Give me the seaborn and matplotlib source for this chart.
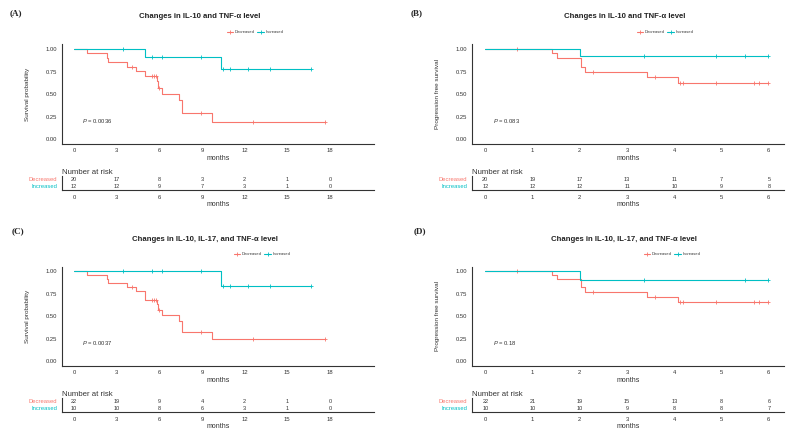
import numpy as np
import pandas as pd
import matplotlib
matplotlib.use('Agg')
import matplotlib.pyplot as plt
from matplotlib.lines import Line2D
import seaborn as sns

sns.set_style('white')
plt.rcParams['font.family'] = ['Liberation Sans', 'DejaVu Sans']
plt.rcParams['mathtext.fontset'] = 'custom'
plt.rcParams['mathtext.it'] = 'Liberation Sans:italic'
plt.rcParams['mathtext.rm'] = 'Liberation Sans'

# ---------------- data ----------------
groups = ['Decreased', 'Increased']
colors = ['#F8766D', '#00BFC4']

# (A) OS, IL-10 + TNF-a
A_dec_t = [0, 0.89, 2.3, 2.4, 3.75, 4.35, 5.0, 5.8, 5.9, 6.18, 7.37, 7.6, 9.67, 17.68]
A_dec_s = [1.0, 0.95, 0.90, 0.85, 0.80, 0.75, 0.70, 0.64, 0.57, 0.50, 0.43, 0.29, 0.19, 0.19]
A_dec_c = [4.1, 5.47, 5.61, 5.75, 5.95, 8.92, 12.56, 17.68]
A_inc_t = [0, 5.0, 10.35, 16.7]
A_inc_s = [1.0, 0.91, 0.78, 0.78]
A_inc_c = [3.43, 5.5, 6.22, 8.9, 10.45, 11.0, 12.27, 13.8, 16.7]
A_risk_dec = [20, 17, 8, 3, 2, 1, 0]
A_risk_inc = [12, 12, 9, 7, 3, 1, 0]

# (B) PFS, IL-10 + TNF-a
B_dec_t = [0, 1.42, 1.51, 2.02, 2.11, 3.42, 4.08, 5.99]
B_dec_s = [1.0, 0.95, 0.90, 0.80, 0.74, 0.685, 0.62, 0.62]
B_dec_c = [0.68, 2.29, 3.59, 4.12, 4.19, 4.88, 5.68, 5.79, 5.99]
B_inc_t = [0, 2.01, 5.99]
B_inc_s = [1.0, 0.92, 0.92]
B_inc_c = [3.36, 4.88, 5.49, 5.99]
B_risk_dec = [20, 19, 17, 13, 11, 7, 5]
B_risk_inc = [12, 12, 12, 11, 10, 9, 8]

# (C) OS, IL-10 + IL-17 + TNF-a
C_dec_t = [0, 0.89, 2.3, 2.4, 3.75, 4.35, 5.02, 5.85, 5.92, 6.2, 7.37, 7.6, 9.67, 17.68]
C_dec_s = [1.0, 0.955, 0.909, 0.864, 0.818, 0.773, 0.678, 0.63, 0.57, 0.513, 0.44, 0.32, 0.244, 0.244]
C_dec_c = [4.1, 5.47, 5.63, 5.77, 5.95, 8.94, 12.56, 17.68]
C_inc_t = [0, 10.35, 16.7]
C_inc_s = [1.0, 0.835, 0.835]
C_inc_c = [3.43, 5.5, 6.22, 8.9, 10.45, 11.0, 12.27, 13.8, 16.7]
C_risk_dec = [22, 19, 9, 4, 2, 1, 0]
C_risk_inc = [10, 10, 8, 6, 3, 1, 0]

# (D) PFS, IL-10 + IL-17 + TNF-a
D_dec_t = [0, 1.42, 1.51, 2.02, 2.11, 3.42, 4.08, 5.99]
D_dec_s = [1.0, 0.955, 0.91, 0.82, 0.77, 0.71, 0.66, 0.66]
D_dec_c = [0.68, 2.29, 3.59, 4.12, 4.19, 4.88, 5.68, 5.79, 5.99]
D_inc_t = [0, 2.01, 5.99]
D_inc_s = [1.0, 0.905, 0.905]
D_inc_c = [3.36, 5.49, 5.99]
D_risk_dec = [22, 21, 19, 15, 13, 8, 6]
D_risk_inc = [10, 10, 10, 9, 8, 8, 7]

panels = [
    dict(tag='(A)', title='Changes in IL-10 and TNF-\u03b1 level', ylab='Survival probability',
         p='0.0036', breaks=[0, 3, 6, 9, 12, 15, 18], xlim=(-0.85, 21.1),
         dec=(A_dec_t, A_dec_s, A_dec_c), inc=(A_inc_t, A_inc_s, A_inc_c),
         risk=(A_risk_dec, A_risk_inc), ox=0, oy=0, tx=10, tty=13, ttl=200, lg=255),
    dict(tag='(B)', title='Changes in IL-10 and TNF-\u03b1 level', ylab='Progression free survival',
         p='0.083', breaks=[0, 1, 2, 3, 4, 5, 6], xlim=(-0.28, 6.32),
         dec=(B_dec_t, B_dec_s, B_dec_c), inc=(B_inc_t, B_inc_s, B_inc_c),
         risk=(B_risk_dec, B_risk_inc), ox=410, oy=0, tx=411, tty=13, ttl=625, lg=665),
    dict(tag='(C)', title='Changes in IL-10, IL-17, and TNF-\u03b1 level', ylab='Survival probability',
         p='0.0037', breaks=[0, 3, 6, 9, 12, 15, 18], xlim=(-0.85, 21.1),
         dec=(C_dec_t, C_dec_s, C_dec_c), inc=(C_inc_t, C_inc_s, C_inc_c),
         risk=(C_risk_dec, C_risk_inc), ox=0, oy=222, tx=12, tty=231, ttl=205, lg=262),
    dict(tag='(D)', title='Changes in IL-10, IL-17, and TNF-\u03b1 level', ylab='Progression free survival',
         p='0.18', breaks=[0, 1, 2, 3, 4, 5, 6], xlim=(-0.28, 6.32),
         dec=(D_dec_t, D_dec_s, D_dec_c), inc=(D_inc_t, D_inc_s, D_inc_c),
         risk=(D_risk_dec, D_risk_inc), ox=410, oy=222, tx=414, tty=231, ttl=624, lg=672),
]

W, H = 798, 436
TXT = '#333333'
fig = plt.figure(figsize=(W / 100, H / 100), dpi=100)


def px_axes(l, t, r, b):
    return fig.add_axes([l / W, 1 - b / H, (r - l) / W, (b - t) / H])


def style_axis(ax):
    sns.despine(ax=ax)
    for s in ['left', 'bottom']:
        ax.spines[s].set_color(TXT)
        ax.spines[s].set_linewidth(0.8)
    ax.tick_params(axis='both', length=2, width=0.5, color=TXT, labelsize=4.2,
                   labelcolor=TXT, pad=1.5)


for pn in panels:
    ox, oy = pn['ox'], pn['oy']
    ax = px_axes(62 + ox, 44.5 + oy, 374 + ox, 143.5 + oy)

    for (t, s, c), col, g in zip([pn['dec'], pn['inc']], colors, groups):
        df = pd.DataFrame({'time': t, 'surv': s})
        sns.lineplot(data=df, x='time', y='surv', ax=ax, color=col, linewidth=0.8,
                     drawstyle='steps-post', estimator=None, sort=False)
        # survival value at each censor time (lookup on the step curve)
        idx = np.searchsorted(np.array(t), np.array(c), side='right') - 1
        dc = pd.DataFrame({'time': c, 'surv': np.array(s)[idx]})
        sns.scatterplot(data=dc, x='time', y='surv', ax=ax, marker='+', color=col,
                        s=10, linewidth=0.6)

    ax.set_xlim(*pn['xlim'])
    ax.set_ylim(-0.05, 1.05)
    ax.set_xticks(pn['breaks'])
    ax.set_yticks([0, 0.25, 0.5, 0.75, 1.0])
    ax.set_yticklabels(['0.00', '0.25', '0.50', '0.75', '1.00'])
    ax.set_xlabel('months', fontsize=5, color=TXT, labelpad=1)
    ax.set_ylabel(pn['ylab'], fontsize=4.6, color=TXT, labelpad=11)
    style_axis(ax)
    ax.text(pn['breaks'][0] + (pn['xlim'][1] - pn['xlim'][0]) * 0.024, 0.2,
            r'$P$ = ' + pn['p'], fontsize=4.2, color=TXT, va='center')

    # title, tag, legend
    fig.text(pn['ttl'] / W, 1 - (17 + oy) / H, pn['title'], ha='center', va='center',
             fontsize=5.6, fontweight='bold', color='#222222')
    fig.text(pn['tx'] / W, 1 - pn['tty'] / H, pn['tag'], ha='left',
             va='center', fontsize=6.5, fontweight='bold', family='Liberation Serif')
    handles = [Line2D([], [], color=col, lw=0.8, marker='+', ms=3, mew=0.6) for col in colors]
    fig.legend(handles, groups, loc='center', bbox_to_anchor=(pn['lg'] / W, 1 - (32 + oy) / H),
               ncol=2, frameon=False, fontsize=3, handlelength=1.6, handletextpad=0.4,
               columnspacing=0.6, labelcolor=TXT)

    # risk table
    tb = px_axes(62 + ox, 176 + oy, 374 + ox, 190 + oy)
    for row, vals in zip([2, 1], pn['risk']):
        for x, n in zip(pn['breaks'], vals):
            tb.text(x, row, str(n), ha='center', va='center', fontsize=4.0, color=TXT)
    tb.set_xlim(*pn['xlim'])
    tb.set_ylim(0.43, 2.43)
    tb.set_xticks(pn['breaks'])
    tb.set_yticks([2, 1])
    tb.set_yticklabels(groups)
    style_axis(tb)
    for lab, col in zip(tb.get_yticklabels(), colors):
        lab.set_color(col)
    tb.set_xlabel('months', fontsize=5, color=TXT, labelpad=1)
    tb.text(0, 1.0, 'Number at risk', transform=tb.transAxes, ha='left', va='bottom',
            fontsize=5.6, color=TXT)

fig.savefig('out.png', dpi=100)
